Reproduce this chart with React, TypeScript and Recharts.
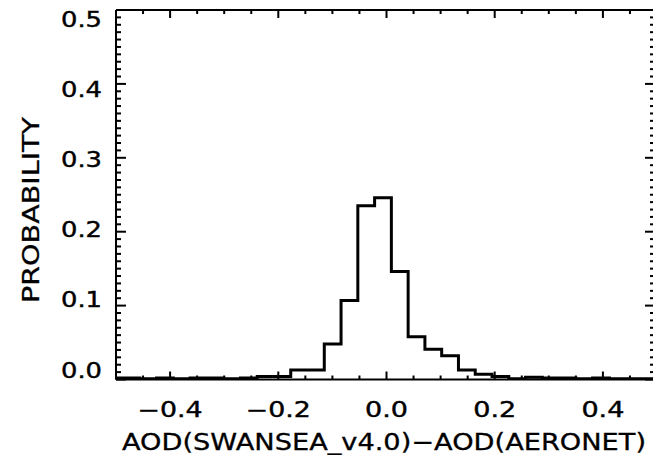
import { ComposedChart, Line, XAxis, YAxis } from "recharts";

// Left edge of every histogram bin (last value closes the final bin).
const binEdges = [
  -0.518, -0.487, -0.456, -0.425, -0.394, -0.363, -0.332, -0.301, -0.27, -0.239, -0.208,
  -0.177, -0.146, -0.115, -0.084, -0.053, -0.022, 0.009, 0.04, 0.071, 0.102, 0.133,
  0.164, 0.195, 0.226, 0.257, 0.288, 0.319, 0.35, 0.381, 0.412, 0.443, 0.474, 0.505,
];

// Probability per bin.
const probability = [
  0.002, 0.002, 0.001, 0.002, 0.001, 0.002, 0.002, 0.001, 0.002, 0.004, 0.004,
  0.013, 0.013, 0.048, 0.107, 0.235, 0.246, 0.146, 0.058, 0.041, 0.032, 0.013,
  0.007, 0.004, 0.001, 0.003, 0.002, 0.002, 0.001, 0.002, 0.001, 0.001, 0.001,
];

// Labelled (major) ticks.
const xMajorTicks = [-0.4, -0.2, 0.0, 0.2, 0.4];
const yMajorTicks = [0.0, 0.1, 0.2, 0.3, 0.4, 0.5];

// Minor ticks every 0.05 on x and 0.01 on y.
const xAllTicks = Array.from({ length: 21 }, (_, i) => Math.round((-0.5 + i * 0.05) * 100) / 100);
const yAllTicks = Array.from({ length: 51 }, (_, i) => Math.round(i) / 100);

const histData = binEdges.map((edge, i) => ({
  x: edge,
  p: probability[Math.min(i, probability.length - 1)],
}));

const FONT = "DejaVu Sans";

const isMajor = (list: number[], v: number) => list.some((t) => Math.abs(t - v) < 1e-6);

const fmt = (v: number) => (v < -1e-9 ? "\u2212" + Math.abs(v).toFixed(1) : Math.abs(v).toFixed(1));

function BottomTick(props: any) {
  const { x, y, payload } = props;
  const major = isMajor(xMajorTicks, payload.value);
  return (
    <g>
      <line x1={x} x2={x} y1={y} y2={y - (major ? 8 : 4)} stroke="#000" strokeWidth={2} />
      {major && (
        <text
          x={x}
          y={y + 37.5}
          textAnchor="middle"
          fontFamily={FONT}
          fontSize={20.5}
          fill="#000"
          stroke="#000"
          strokeWidth={0.4}
          textLength={payload.value < 0 ? 65 : 43}
          lengthAdjust="spacingAndGlyphs"
        >
          {fmt(payload.value)}
        </text>
      )}
    </g>
  );
}

function TopTick(props: any) {
  const { x, y, payload } = props;
  const major = isMajor(xMajorTicks, payload.value);
  return <line x1={x} x2={x} y1={y} y2={y + (major ? 8 : 4)} stroke="#000" strokeWidth={2} />;
}

function LeftTick(props: any) {
  const { x, y, payload } = props;
  const v = payload.value;
  const major = isMajor(yMajorTicks, v);
  // labels sit a little inside the tick span, as in the original
  const labelY = y - 9.5 + 38 * v + 7.5;
  return (
    <g>
      <line x1={x} x2={x + (major ? 10 : 5)} y1={y} y2={y} stroke="#000" strokeWidth={2} />
      {major && (
        <text
          x={102}
          y={labelY}
          textAnchor="end"
          fontFamily={FONT}
          fontSize={20.5}
          fill="#000"
          stroke="#000"
          strokeWidth={0.4}
          textLength={41}
          lengthAdjust="spacingAndGlyphs"
        >
          {fmt(v)}
        </text>
      )}
    </g>
  );
}

function RightTick(props: any) {
  const { x, y, payload } = props;
  const major = isMajor(yMajorTicks, payload.value);
  return <line x1={x} x2={x - (major ? 12 : 7)} y1={y} y2={y} stroke="#000" strokeWidth={2} />;
}

const XTitle = () => (
  <text
    x={384}
    y={450}
    textAnchor="middle"
    fontFamily={FONT}
    fontSize={23}
    fill="#000"
    stroke="#000"
    strokeWidth={0.3}
    textLength={524}
    lengthAdjust="spacingAndGlyphs"
  >
    AOD(SWANSEA_v4.0){"\u2212"}AOD(AERONET)
  </text>
);

const YTitle = () => (
  <text
    x={31}
    y={210}
    transform="rotate(-90 31 210)"
    textAnchor="middle"
    dominantBaseline="central"
    fontFamily={FONT}
    fontSize={23}
    fill="#000"
    stroke="#000"
    strokeWidth={0.3}
    textLength={186}
    lengthAdjust="spacingAndGlyphs"
  >
    PROBABILITY
  </text>
);

export default function App() {
  return (
    <div style={{ position: "absolute", left: 0, top: 0, width: 653, height: 455, overflow: "hidden", background: "#fff" }}>
      <ComposedChart width={660} height={455} data={histData} margin={{ top: 8, right: 0, bottom: 15, left: 0 }}>
        <XAxis
          xAxisId="bottom"
          dataKey="x"
          type="number"
          domain={[-0.5, 0.5]}
          allowDataOverflow
          ticks={xAllTicks}
          interval={0}
          height={60.5}
          tickSize={0}
          tickMargin={0}
          tickLine={false}
          tick={<BottomTick />}
          axisLine={{ stroke: "#000", strokeWidth: 2 }}
          label={{ content: () => <XTitle /> }}
        />
        <XAxis
          xAxisId="top"
          orientation="top"
          dataKey="x"
          type="number"
          domain={[-0.5, 0.5]}
          allowDataOverflow
          ticks={xAllTicks}
          interval={0}
          height={2}
          tickSize={0}
          tickMargin={0}
          tickLine={false}
          tick={<TopTick />}
          axisLine={{ stroke: "#000", strokeWidth: 2 }}
        />
        <YAxis
          yAxisId="left"
          type="number"
          domain={[0, 0.5]}
          allowDataOverflow
          ticks={yAllTicks}
          interval={0}
          width={116}
          tickSize={0}
          tickMargin={0}
          tickLine={false}
          tick={<LeftTick />}
          axisLine={{ stroke: "#000", strokeWidth: 2 }}
          label={{ content: () => <YTitle /> }}
        />
        <YAxis
          yAxisId="right"
          orientation="right"
          type="number"
          domain={[0, 0.5]}
          allowDataOverflow
          ticks={yAllTicks}
          interval={0}
          width={3}
          tickSize={0}
          tickMargin={0}
          tickLine={false}
          tick={<RightTick />}
          axisLine={{ stroke: "#000", strokeWidth: 2 }}
        />
        <Line
          xAxisId="bottom"
          yAxisId="left"
          dataKey="p"
          type="stepAfter"
          stroke="#000"
          strokeWidth={3}
          dot={false}
          activeDot={false}
          isAnimationActive={false}
        />
      </ComposedChart>
    </div>
  );
}
